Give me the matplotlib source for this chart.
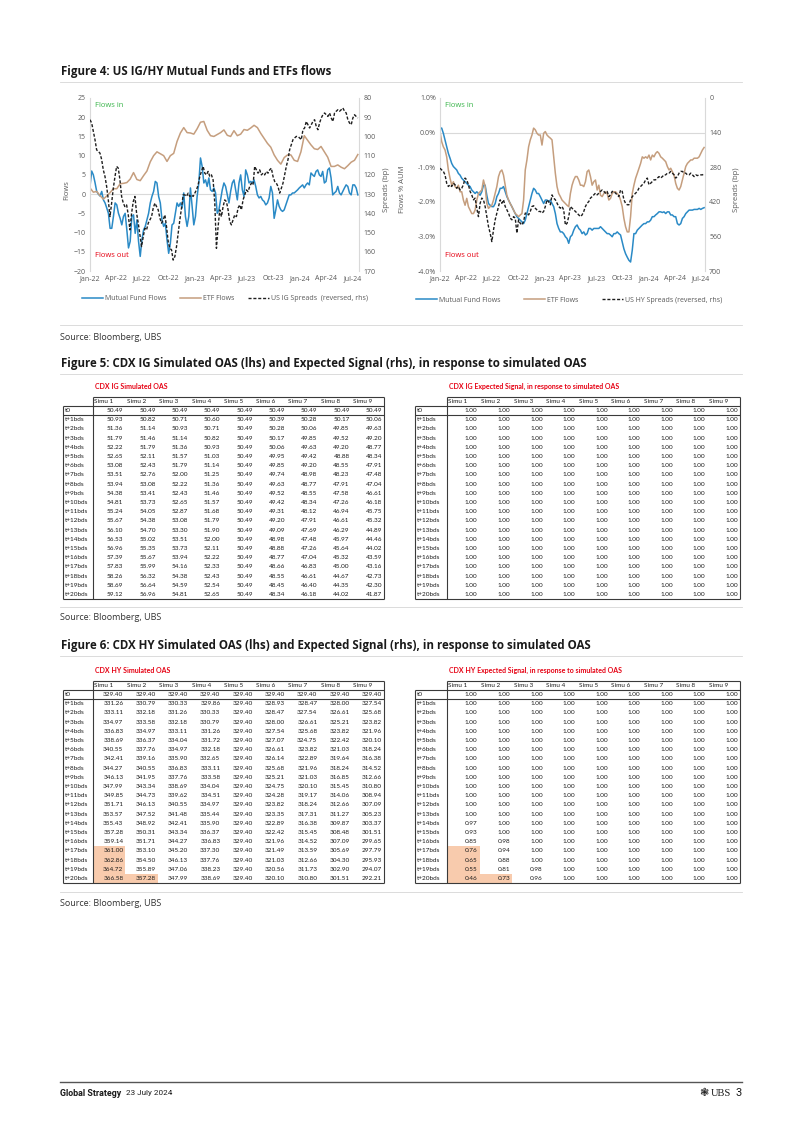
import matplotlib.pyplot as plt
import matplotlib.dates as mdates
from matplotlib.patches import Rectangle
from matplotlib.ticker import FuncFormatter
import pandas as pd

plt.rcParams['font.family'] = ['Open Sans', 'DejaVu Sans']

# ---------------- Figure 4 data (weekly) ----------------
ig_mf = [2.0, 6.0, 5.0, 3.0, 0.7, 0.0, -0.5, 0.7, -1.5, -2.3, -3.6, -5.0, -8.9, -8.9, -5.8, -2.3,
         -2.8, -5.0, -6.3, -8.0, -5.8, -5.0, -9.3, -14.0, -12.3, -5.8, -5.4, -10.2, -6.7, -12.3,
         -16.2, -11.9, -9.3, -8.4, -6.7, -5.0, -2.3, -0.6, 0.7, 3.3, 2.9, -0.6, -2.3, -6.7, -8.4,
         -7.6, -11.9, -15.4, -12.8, -8.0, -7.6, -5.0, -2.3, -3.2, -2.3, -3.6, 0.3, -5.8, -8.4,
         -5.8, 1.6, -3.2, -8.0, -5.8, -0.6, 2.9, 9.4, 7.2, 2.9, 3.7, 2.0, 4.2, 1.1, 0.7, 1.6, 0.3,
         -5.0, -4.1, -1.5, 1.1, 2.9, 2.0, -0.2, -2.3, 0.7, 2.9, 3.7, 1.1, -1.5, 2.9, 5.0, 1.1,
         -0.6, 6.3, 5.0, 2.9, 3.3, 2.9, 3.7, 2.0, -0.2, -1.0, -0.6, -1.5, -1.9, -2.8, -2.3, -1.0,
         2.0, 0.3, -6.3, -4.1, -1.5, -3.2, -4.1, -4.5, -4.1, -2.8, -1.5, -0.2, -0.2, 0.3, 0.3,
         0.7, 1.1, 1.6, 2.0, 2.4, 1.6, 2.4, 2.9, 2.4, 5.5, 5.0, 4.6, 5.9, 6.3, 5.0, 4.6, 5.9, 2.9,
         3.3, 6.3, 6.8, 4.2, -0.2, 0.3, 0.7, 2.0, 0.3, -0.2, 0.7, 1.6, 2.4, 2.0, 0.3, -0.2, 2.4,
         2.4, 1.6, -0.2]
ig_etf = [1.6, 0.5, 0.7, -0.4, -1.3, -0.5, 0.4, 1.4, 1.4, 2.7, 2.8, 3.0, 3.9, 5.6, 3.8, 3.5, 4.8,
          6.0, 8.4, 10.0, 11.0, 10.5, 10.0, 8.5, 10.0, 10.6, 13.7, 15.9, 17.3, 16.0, 15.9, 15.6,
          17.0, 18.7, 18.9, 16.6, 15.2, 15.0, 15.5, 16.0, 16.7, 15.3, 15.0, 16.5, 15.2, 15.6,
          16.8, 16.6, 17.2, 17.9, 17.3, 15.8, 14.5, 13.2, 12.2, 10.2, 8.8, 7.8, 9.5, 10.2, 10.2,
          8.8, 8.5, 11.0, 15.2, 14.0, 12.8, 11.8, 11.6, 12.4, 11.0, 9.6, 7.2, 7.2, 7.6, 7.0, 6.6,
          7.4, 8.3, 8.8, 10.3]
ig_spread = [91.3, 93, 97.4, 101.7, 107, 107.8, 108.7, 112, 117.4, 120.8, 126, 133, 141.7, 134.7,
             127, 121, 115.6, 116.5, 122.6, 131.2, 134.7, 136.5, 135.6, 140.8, 148.6, 139.9,
             133.9, 131.2, 139.9, 145.1, 151.2, 157.3, 152.1, 147.8, 148.6, 145.1, 143.4, 141.7,
             137.3, 134.7, 136.5, 138.2, 142.5, 145.1, 143.4, 140.8, 146.9, 154.7, 158.2, 159,
             164.3, 162.5, 157.3, 150.4, 143.4, 137.3, 130.4, 130.4, 131.2, 129.5, 131.2, 130.4,
             131.2, 129.5, 127.8, 125.2, 120.8, 118.2, 115.6, 119.1, 120, 118.2, 120.8, 120, 122.6,
             134.7, 158.2, 146.9, 138.2, 141.7, 136.5, 133, 133.9, 138.2, 144.3, 146, 143.4, 140.8,
             141.7, 137.3, 135.6, 138.2, 133, 130.4, 127.8, 128.7, 126, 124.3, 125.2, 115.6,
             117.4, 119.1, 117.4, 120, 119.1, 120, 118.2, 119.1, 117.4, 116.5, 120.8, 123.4,
             124.3, 126, 129.5, 127, 124.3, 120, 115.6, 112.1, 106.9, 104.3, 101.7, 100.8, 100,
             100, 100.8, 101.7, 96.5, 95.6, 92.2, 93.9, 95.6, 93.9, 92.2, 91.3, 94.8, 96.5, 93,
             90.4, 88.7, 87.8, 88.7, 89.6, 87.8, 90.4, 92.2, 87.8, 86.9, 86.1, 86.9, 86.1, 85.2,
             86.9, 87.8, 91.3, 93, 93.9, 90.4, 88.7, 89.6, 90.4]

hy_mf = [0.13, 0.13, -0.02, -0.21, -0.41, -0.6, -0.74, -0.89, -0.98, -1.03, -1.08, -1.18, -1.23,
         -1.32, -1.37, -1.42, -1.47, -1.52, -1.56, -1.66, -1.71, -1.76, -1.71, -1.76, -1.81, -1.71,
         -1.52, -1.52, -1.81, -2.05, -2.1, -2.14, -2.14, -2.05, -1.85, -1.76, -1.61, -1.61, -1.56,
         -1.71, -1.85, -1.95, -2.05, -2.14, -2.24, -2.34, -2.43, -2.48, -2.53, -2.58, -2.63, -2.53,
         -2.34, -2.14, -1.95, -1.76, -1.61, -1.66, -1.76, -1.76, -1.85, -1.95, -2.05, -1.95, -1.95,
         -2.0, -1.95, -2.05, -2.14, -2.34, -2.63, -2.77, -2.87, -2.87, -2.92, -3.01, -3.06, -3.2,
         -3.01, -2.96, -2.82, -2.72, -2.67, -2.77, -2.82, -2.92, -2.87, -2.96, -2.92, -2.77, -2.77,
         -2.82, -2.77, -2.77, -2.77, -2.77, -2.72, -2.77, -2.82, -2.87, -2.92, -2.92, -2.96, -3.01,
         -2.92, -2.92, -2.87, -2.92, -2.96, -3.16, -3.36, -3.5, -3.6, -3.69, -3.74, -3.4, -2.92,
         -2.92, -2.82, -2.77, -2.72, -2.67, -2.63, -2.63, -2.58, -2.58, -2.53, -2.43, -2.43, -2.38,
         -2.34, -2.29, -2.29, -2.31, -2.29, -2.34, -2.29, -2.29, -2.38, -2.38, -2.43, -2.43, -2.63,
         -2.67, -2.63, -2.48, -2.43, -2.34, -2.29, -2.24, -2.24, -2.24, -2.22, -2.22, -2.22, -2.19,
         -2.22, -2.19, -2.17]
hy_etf = [0.03, -0.26, -0.41, -0.5, -0.7, -1.08, -1.32, -1.52, -1.42, -1.56, -1.61, -1.52, -1.71,
          -1.71, -1.95, -2.1, -1.9, -2.14, -2.24, -2.34, -2.34, -2.24, -1.95, -1.76, -1.71, -1.66,
          -1.37, -1.56, -2.05, -2.19, -2.14, -2.1, -1.95, -1.76, -1.56, -1.27, -1.13, -1.08, -1.23,
          -1.52, -1.81, -1.95, -2.05, -2.14, -2.24, -2.34, -2.38, -2.43, -2.38, -2.34, -1.95, -1.08,
          -0.79, -0.41, -0.21, -0.07, 0.13, 0.08, -0.02, -0.07, -0.07, -0.36, -0.02, 0.03, -0.07,
          -0.12, -0.16, -0.21, -0.7, -1.18, -1.56, -1.76, -1.85, -1.95, -2.0, -2.05, -2.1, -2.14,
          -1.76, -1.52, -1.37, -1.27, -1.27, -1.37, -1.52, -1.52, -1.56, -1.42, -1.13, -1.08, -1.27,
          -1.52, -1.42, -1.37, -1.66, -1.52, -1.81, -1.85, -1.76, -1.71, -1.76, -1.95, -1.9, -1.76,
          -1.71, -1.71, -1.76, -1.81, -1.95, -2.14, -2.48, -2.72, -2.87, -2.87, -2.43, -1.76, -1.52,
          -1.32, -1.18, -1.03, -0.89, -0.7, -0.74, -0.7, -0.74, -0.65, -0.79, -0.65, -0.7, -0.6,
          -0.55, -0.6, -0.7, -0.74, -0.79, -0.84, -0.98, -1.08, -1.03, -1.13, -1.23, -1.47, -1.61,
          -1.66, -1.56, -1.37, -1.18, -0.98, -0.89, -0.84, -0.79, -0.79, -0.74, -0.74, -0.74, -0.7,
          -0.6, -0.5, -0.43]
hy_spread = [284, 291, 297, 311, 345, 358, 351, 358, 345, 351, 365, 358, 372, 365, 351, 324, 331,
             351, 378, 392, 412, 405, 446, 480, 426, 405, 412, 439, 480, 520, 547, 581, 534, 493,
             466, 439, 412, 426, 412, 439, 453, 466, 486, 493, 480, 486, 547, 493, 507, 514, 500,
             466, 466, 473, 459, 439, 436, 446, 453, 459, 459, 466, 459, 439, 412, 419, 432, 392,
             405, 412, 426, 439, 446, 439, 453, 514, 507, 480, 439, 446, 453, 459, 466, 473, 480,
             473, 459, 439, 426, 419, 405, 399, 392, 385, 392, 385, 378, 372, 378, 385, 378, 399,
             392, 378, 378, 385, 392, 399, 372, 378, 412, 426, 432, 432, 412, 399, 392, 385, 378,
             365, 358, 351, 345, 331, 324, 351, 345, 338, 331, 331, 324, 318, 324, 318, 311, 311,
             304, 304, 297, 304, 311, 324, 318, 304, 297, 297, 304, 304, 311, 311, 304, 311, 318,
             311, 314, 311, 311, 311, 307]

# ---------------- Figure 5 / 6 tables ----------------
sim_cols = ['Simu 1', 'Simu 2', 'Simu 3', 'Simu 4', 'Simu 5', 'Simu 6', 'Simu 7', 'Simu 8', 'Simu 9']
row_labels = ['t0'] + ['t+%dbds' % i for i in range(1, 21)]

ig_oas = [
    [50.49, 50.49, 50.49, 50.49, 50.49, 50.49, 50.49, 50.49, 50.49],
    [50.93, 50.82, 50.71, 50.60, 50.49, 50.39, 50.28, 50.17, 50.06],
    [51.36, 51.14, 50.93, 50.71, 50.49, 50.28, 50.06, 49.85, 49.63],
    [51.79, 51.46, 51.14, 50.82, 50.49, 50.17, 49.85, 49.52, 49.20],
    [52.22, 51.79, 51.36, 50.93, 50.49, 50.06, 49.63, 49.20, 48.77],
    [52.65, 52.11, 51.57, 51.03, 50.49, 49.95, 49.42, 48.88, 48.34],
    [53.08, 52.43, 51.79, 51.14, 50.49, 49.85, 49.20, 48.55, 47.91],
    [53.51, 52.76, 52.00, 51.25, 50.49, 49.74, 48.98, 48.23, 47.48],
    [53.94, 53.08, 52.22, 51.36, 50.49, 49.63, 48.77, 47.91, 47.04],
    [54.38, 53.41, 52.43, 51.46, 50.49, 49.52, 48.55, 47.58, 46.61],
    [54.81, 53.73, 52.65, 51.57, 50.49, 49.42, 48.34, 47.26, 46.18],
    [55.24, 54.05, 52.87, 51.68, 50.49, 49.31, 48.12, 46.94, 45.75],
    [55.67, 54.38, 53.08, 51.79, 50.49, 49.20, 47.91, 46.61, 45.32],
    [56.10, 54.70, 53.30, 51.90, 50.49, 49.09, 47.69, 46.29, 44.89],
    [56.53, 55.02, 53.51, 52.00, 50.49, 48.98, 47.48, 45.97, 44.46],
    [56.96, 55.35, 53.73, 52.11, 50.49, 48.88, 47.26, 45.64, 44.02],
    [57.39, 55.67, 53.94, 52.22, 50.49, 48.77, 47.04, 45.32, 43.59],
    [57.83, 55.99, 54.16, 52.33, 50.49, 48.66, 46.83, 45.00, 43.16],
    [58.26, 56.32, 54.38, 52.43, 50.49, 48.55, 46.61, 44.67, 42.73],
    [58.69, 56.64, 54.59, 52.54, 50.49, 48.45, 46.40, 44.35, 42.30],
    [59.12, 56.96, 54.81, 52.65, 50.49, 48.34, 46.18, 44.02, 41.87],
]
ig_signal = [
    [1.00, 1.00, 1.00, 1.00, 1.00, 1.00, 1.00, 1.00, 1.00],
    [1.00, 1.00, 1.00, 1.00, 1.00, 1.00, 1.00, 1.00, 1.00],
    [1.00, 1.00, 1.00, 1.00, 1.00, 1.00, 1.00, 1.00, 1.00],
    [1.00, 1.00, 1.00, 1.00, 1.00, 1.00, 1.00, 1.00, 1.00],
    [1.00, 1.00, 1.00, 1.00, 1.00, 1.00, 1.00, 1.00, 1.00],
    [1.00, 1.00, 1.00, 1.00, 1.00, 1.00, 1.00, 1.00, 1.00],
    [1.00, 1.00, 1.00, 1.00, 1.00, 1.00, 1.00, 1.00, 1.00],
    [1.00, 1.00, 1.00, 1.00, 1.00, 1.00, 1.00, 1.00, 1.00],
    [1.00, 1.00, 1.00, 1.00, 1.00, 1.00, 1.00, 1.00, 1.00],
    [1.00, 1.00, 1.00, 1.00, 1.00, 1.00, 1.00, 1.00, 1.00],
    [1.00, 1.00, 1.00, 1.00, 1.00, 1.00, 1.00, 1.00, 1.00],
    [1.00, 1.00, 1.00, 1.00, 1.00, 1.00, 1.00, 1.00, 1.00],
    [1.00, 1.00, 1.00, 1.00, 1.00, 1.00, 1.00, 1.00, 1.00],
    [1.00, 1.00, 1.00, 1.00, 1.00, 1.00, 1.00, 1.00, 1.00],
    [1.00, 1.00, 1.00, 1.00, 1.00, 1.00, 1.00, 1.00, 1.00],
    [1.00, 1.00, 1.00, 1.00, 1.00, 1.00, 1.00, 1.00, 1.00],
    [1.00, 1.00, 1.00, 1.00, 1.00, 1.00, 1.00, 1.00, 1.00],
    [1.00, 1.00, 1.00, 1.00, 1.00, 1.00, 1.00, 1.00, 1.00],
    [1.00, 1.00, 1.00, 1.00, 1.00, 1.00, 1.00, 1.00, 1.00],
    [1.00, 1.00, 1.00, 1.00, 1.00, 1.00, 1.00, 1.00, 1.00],
    [1.00, 1.00, 1.00, 1.00, 1.00, 1.00, 1.00, 1.00, 1.00],
]
hy_oas = [
    [329.40, 329.40, 329.40, 329.40, 329.40, 329.40, 329.40, 329.40, 329.40],
    [331.26, 330.79, 330.33, 329.86, 329.40, 328.93, 328.47, 328.00, 327.54],
    [333.11, 332.18, 331.26, 330.33, 329.40, 328.47, 327.54, 326.61, 325.68],
    [334.97, 333.58, 332.18, 330.79, 329.40, 328.00, 326.61, 325.21, 323.82],
    [336.83, 334.97, 333.11, 331.26, 329.40, 327.54, 325.68, 323.82, 321.96],
    [338.69, 336.37, 334.04, 331.72, 329.40, 327.07, 324.75, 322.42, 320.10],
    [340.55, 337.76, 334.97, 332.18, 329.40, 326.61, 323.82, 321.03, 318.24],
    [342.41, 339.16, 335.90, 332.65, 329.40, 326.14, 322.89, 319.64, 316.38],
    [344.27, 340.55, 336.83, 333.11, 329.40, 325.68, 321.96, 318.24, 314.52],
    [346.13, 341.95, 337.76, 333.58, 329.40, 325.21, 321.03, 316.85, 312.66],
    [347.99, 343.34, 338.69, 334.04, 329.40, 324.75, 320.10, 315.45, 310.80],
    [349.85, 344.73, 339.62, 334.51, 329.40, 324.28, 319.17, 314.06, 308.94],
    [351.71, 346.13, 340.55, 334.97, 329.40, 323.82, 318.24, 312.66, 307.09],
    [353.57, 347.52, 341.48, 335.44, 329.40, 323.35, 317.31, 311.27, 305.23],
    [355.43, 348.92, 342.41, 335.90, 329.40, 322.89, 316.38, 309.87, 303.37],
    [357.28, 350.31, 343.34, 336.37, 329.40, 322.42, 315.45, 308.48, 301.51],
    [359.14, 351.71, 344.27, 336.83, 329.40, 321.96, 314.52, 307.09, 299.65],
    [361.00, 353.10, 345.20, 337.30, 329.40, 321.49, 313.59, 305.69, 297.79],
    [362.86, 354.50, 346.13, 337.76, 329.40, 321.03, 312.66, 304.30, 295.93],
    [364.72, 355.89, 347.06, 338.23, 329.40, 320.56, 311.73, 302.90, 294.07],
    [366.58, 357.28, 347.99, 338.69, 329.40, 320.10, 310.80, 301.51, 292.21],
]
hy_signal = [
    [1.00, 1.00, 1.00, 1.00, 1.00, 1.00, 1.00, 1.00, 1.00],
    [1.00, 1.00, 1.00, 1.00, 1.00, 1.00, 1.00, 1.00, 1.00],
    [1.00, 1.00, 1.00, 1.00, 1.00, 1.00, 1.00, 1.00, 1.00],
    [1.00, 1.00, 1.00, 1.00, 1.00, 1.00, 1.00, 1.00, 1.00],
    [1.00, 1.00, 1.00, 1.00, 1.00, 1.00, 1.00, 1.00, 1.00],
    [1.00, 1.00, 1.00, 1.00, 1.00, 1.00, 1.00, 1.00, 1.00],
    [1.00, 1.00, 1.00, 1.00, 1.00, 1.00, 1.00, 1.00, 1.00],
    [1.00, 1.00, 1.00, 1.00, 1.00, 1.00, 1.00, 1.00, 1.00],
    [1.00, 1.00, 1.00, 1.00, 1.00, 1.00, 1.00, 1.00, 1.00],
    [1.00, 1.00, 1.00, 1.00, 1.00, 1.00, 1.00, 1.00, 1.00],
    [1.00, 1.00, 1.00, 1.00, 1.00, 1.00, 1.00, 1.00, 1.00],
    [1.00, 1.00, 1.00, 1.00, 1.00, 1.00, 1.00, 1.00, 1.00],
    [1.00, 1.00, 1.00, 1.00, 1.00, 1.00, 1.00, 1.00, 1.00],
    [1.00, 1.00, 1.00, 1.00, 1.00, 1.00, 1.00, 1.00, 1.00],
    [0.97, 1.00, 1.00, 1.00, 1.00, 1.00, 1.00, 1.00, 1.00],
    [0.93, 1.00, 1.00, 1.00, 1.00, 1.00, 1.00, 1.00, 1.00],
    [0.85, 0.98, 1.00, 1.00, 1.00, 1.00, 1.00, 1.00, 1.00],
    [0.76, 0.94, 1.00, 1.00, 1.00, 1.00, 1.00, 1.00, 1.00],
    [0.65, 0.88, 1.00, 1.00, 1.00, 1.00, 1.00, 1.00, 1.00],
    [0.55, 0.81, 0.98, 1.00, 1.00, 1.00, 1.00, 1.00, 1.00],
    [0.46, 0.73, 0.96, 1.00, 1.00, 1.00, 1.00, 1.00, 1.00],
]
hy_highlight = [(17, 0), (18, 0), (19, 0), (20, 0), (20, 1)]   # (row, column)

# ---------------- styling ----------------
BLUE = '#2A8AC6'
TAN = '#C59E7E'
DASH = '#1E1E1E'
AXC = '#D9D9D9'
TXT = '#595959'
RED = '#E60012'
GREEN = '#39B54A'
HL = '#F8CBAD'
INK = '#1A1A1A'
TFONT = ['Lato', 'DejaVu Sans']

W, H = 802, 1134
fig = plt.figure(figsize=(W / 100, H / 100), dpi=100)
page = fig.add_axes([0, 0, 1, 1])
page.set_xlim(0, W)
page.set_ylim(H, 0)
page.axis('off')
renderer = fig.canvas.get_renderer()


def px_axes(x0, y0, x1, y1):
    return fig.add_axes([x0 / W, 1 - y1 / H, (x1 - x0) / W, (y1 - y0) / H])


def fit_text(x, y, s, width, size, **kw):
    # shrink/grow the font so the string spans the same width as in the page
    t = page.text(x, y, s, fontsize=size, **kw)
    w = t.get_window_extent(renderer).width
    t.set_fontsize(size * width / w)
    return t


def flows_chart(box, mf, etf, spr, end, xmax, ylim, ystep, ylim2, ystep2, pct,
                ylab, spr_name, lab_x, leg_xy, colsp):
    ax = px_axes(*box)
    ax2 = ax.twinx()
    d_mf = pd.date_range('2022-01-01', end, periods=len(mf))
    d_etf = pd.date_range('2022-01-01', end, periods=len(etf))
    d_spr = pd.date_range('2022-01-01', end, periods=len(spr))
    ax.axhline(0, color=AXC, lw=0.8, zorder=0)
    l1, = ax.plot(d_mf, mf, color=BLUE, lw=1.1)
    l2, = ax.plot(d_etf, etf, color=TAN, lw=1.1)
    l3, = ax2.plot(d_spr, spr, color=DASH, lw=1.0, ls=(0, (2.2, 1.3)))
    ax.set_xlim(pd.Timestamp('2022-01-01'), pd.Timestamp(xmax))
    ax.set_ylim(*ylim)
    ax2.set_ylim(*ylim2)
    ax.set_yticks([ylim[0] + i * ystep for i in range(int(round((ylim[1] - ylim[0]) / ystep)) + 1)])
    ax2.set_yticks([ylim2[1] + i * ystep2 for i in range(int(round((ylim2[0] - ylim2[1]) / ystep2)) + 1)])
    ax.set_xticks(pd.date_range('2022-01-01', '2024-07-01', freq='QS'))
    ax.xaxis.set_major_formatter(mdates.DateFormatter('%b-%y'))
    if pct:
        ax.yaxis.set_major_formatter(FuncFormatter(lambda v, p: '%.1f%%' % v))
    for a in (ax, ax2):
        a.tick_params(length=0, labelsize=5, labelcolor=TXT, pad=3)
        for s in a.spines.values():
            s.set_visible(False)
    ax.spines['left'].set_visible(True)
    ax.spines['left'].set_color(AXC)
    ax2.spines['right'].set_visible(True)
    ax2.spines['right'].set_color(AXC)
    ax.set_ylabel(ylab, fontsize=5.5, color=TXT)
    ax2.set_ylabel('Spreads (bp)', fontsize=5.5, color=TXT, rotation=90)
    ax.yaxis.set_label_coords(lab_x[0], 0.47)
    ax2.yaxis.set_label_coords(lab_x[1], 0.47)
    ax.text(0.02, 0.975, 'Flows in', transform=ax.transAxes, color=GREEN, fontsize=5.5, va='top')
    ax.text(0.02, 0.09, 'Flows out', transform=ax.transAxes, color=RED, fontsize=5.5, va='center')
    fig.legend([l1, l2, l3], ['Mutual Fund Flows', 'ETF Flows', spr_name],
               loc='center', bbox_to_anchor=(leg_xy[0] / W, 1 - leg_xy[1] / H),
               ncol=3, frameon=False, fontsize=5, labelcolor=TXT, handlelength=3.0,
               handletextpad=0.3, columnspacing=colsp)


flows_chart((90, 98, 359, 271), ig_mf, ig_etf, ig_spread, '2024-07-20', '2024-07-24',
            (-20, 25), 5, (170, 80), 10, False, 'Flows',
            'US IG Spreads  (reversed, rhs)', (-0.075, 1.09), (225, 299), 2.0)
flows_chart((440, 98, 705, 271), hy_mf, hy_etf, hy_spread, '2024-07-12', '2024-07-15',
            (-4, 1), 1, (700, 0), 140, True, 'Flows % AUM',
            'US HY Spreads (reversed, rhs)', (-0.13, 1.105), (569, 300), 3.4)


def sim_table(xl, xd, xr, ytop, title, vals, hl=()):
    cw = (xr - xd) / 9
    rh = 9.2
    hh = 8.6
    y0 = ytop + hh
    ybot = y0 + rh * len(vals)
    page.text(xd + 2, ytop - 10.5, title, color=RED, fontsize=5, fontweight='bold',
              va='center', family=TFONT)
    for r, c in hl:
        page.add_patch(Rectangle((xd + c * cw, y0 + r * rh), cw, rh, facecolor=HL,
                                 edgecolor='none', zorder=1))
    for c, name in enumerate(sim_cols):
        page.text(xd + c * cw + 1.5, ytop + hh / 2 + 0.3, name, fontsize=4.6, color=INK,
                  va='center', ha='left', family=TFONT, zorder=3)
    for r, row in enumerate(vals):
        yc = y0 + (r + 0.5) * rh + 0.3
        page.text(xl + 2, yc, row_labels[r], fontsize=4.6, color=INK, va='center',
                  ha='left', family=TFONT, zorder=3)
        for c, v in enumerate(row):
            page.text(xd + (c + 1) * cw - 2, yc, '%.2f' % v, fontsize=4.6, color=INK,
                      va='center', ha='right', family=TFONT, zorder=3)
    kw = dict(color='#3A3A3A', lw=0.8, solid_capstyle='butt', zorder=4)
    page.plot([xd, xr], [ytop, ytop], **kw)
    page.plot([xd, xd], [ytop, ybot], **kw)
    page.plot([xr, xr], [ytop, ybot], **kw)
    page.plot([xl, xr], [y0, y0], **kw)
    page.plot([xl, xr], [y0 + rh, y0 + rh], **kw)
    page.plot([xl, xl], [y0, ybot], **kw)
    page.plot([xl, xr], [ybot, ybot], **kw)


sim_table(63, 93, 384, 397, 'CDX IG Simulated OAS', ig_oas)
sim_table(415, 447, 740, 397, 'CDX IG Expected Signal, in response to simulated OAS', ig_signal)
sim_table(63, 93, 384, 681, 'CDX HY Simulated OAS', hy_oas, hy_highlight)
sim_table(415, 447, 740, 681, 'CDX HY Expected Signal, in response to simulated OAS',
          hy_signal, hy_highlight)

# ---------------- page furniture ----------------
titles = [(71, 'Figure 4: US IG/HY Mutual Funds and ETFs flows', 272),
          (363, 'Figure 5: CDX IG Simulated OAS (lhs) and Expected Signal (rhs), in response to simulated OAS', 528),
          (645, 'Figure 6: CDX HY Simulated OAS (lhs) and Expected Signal (rhs), in response to simulated OAS', 530)]
for y, t, w in titles:
    fit_text(61, y, t, w, 9, fontweight='bold', color=INK, va='center')
for y in (82, 325, 374, 607, 656, 892):
    page.plot([60, 742], [y, y], color='#D6D6D6', lw=0.6)
for y in (337, 618, 903):
    page.text(60, y, 'Source: Bloomberg, UBS', fontsize=6.5, color='#333333', va='center')

page.plot([60, 742], [1082, 1082], color='#555555', lw=1.0)
fit_text(60, 1093, 'Global Strategy', 62, 8, fontweight='bold', color=INK, va='center',
         family='Roboto')
fit_text(126, 1093, '23 July 2024', 46, 8, color=INK, va='center', family='Roboto')
page.text(709, 1093, '\u2743', fontsize=8, color=INK, va='center', ha='right', family='DejaVu Sans')
page.text(711, 1093, 'UBS', fontsize=7.5, color=INK, va='center', ha='left',
          family='Liberation Serif')
page.text(742, 1093, '3', fontsize=8, color=INK, va='center', ha='right', family='Roboto')

fig.savefig('out.png', dpi=100)
